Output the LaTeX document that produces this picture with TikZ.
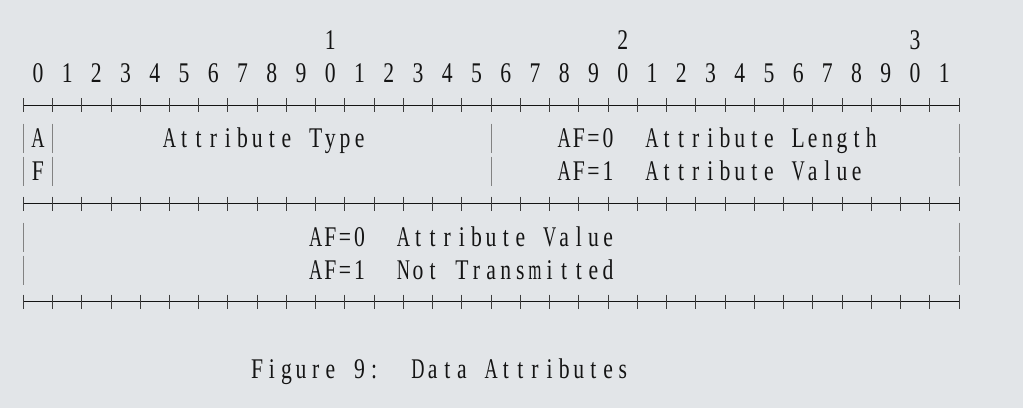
\documentclass[tikz,border=0pt]{standalone}
\usepackage{fontspec}
\setmainfont{Liberation Serif}
\usepackage{graphicx}
\usepackage{xcolor}
\definecolor{bg}{RGB}{226,229,232}
\definecolor{ink}{RGB}{20,20,20}
\definecolor{bar}{RGB}{130,130,130}
\definecolor{tick}{RGB}{60,60,60}
\def\cw{14.62}
\newsavebox\chbox
\def\monoend{\monoend}
\newcommand\mono[1]{\monoi#1\monoend}
\def\monoi#1{\ifx#1\monoend\else\monochar{#1}\expandafter\monoi\fi}
\newcommand\monochar[1]{\sbox\chbox{\scalebox{0.76}[1]{#1}}%
  \ifdim\wd\chbox>13.2pt
    \makebox[\cw pt][c]{\resizebox{13.2pt}{\height}{\usebox\chbox}}%
  \else
    \makebox[\cw pt][c]{\usebox\chbox}%
  \fi}
\begin{document}
\begin{tikzpicture}[x=1pt,y=-1pt,
  txt/.style={anchor=base west,inner sep=0pt,outer sep=0pt,text=ink,font=\fontsize{28.5}{30}\selectfont},
  hline/.style={draw=ink,line width=1pt},
  tickmark/.style={draw=tick,line width=1pt},
  vbar/.style={draw=bar,line width=1pt}]
\def\xo{16.0}
\fill[bg] (0,0) rectangle (1023,408);
\useasboundingbox (0,0) rectangle (1023,408);
% header: tens and bit numbers
\node[txt] (ten)    at ({\xo+21*\cw},49.5) {\mono{1}};
\node[txt] (twenty) at ({\xo+41*\cw},49.5) {\mono{2}};
\node[txt] (thirty) at ({\xo+61*\cw},49.5) {\mono{3}};
\node[txt] (bits)   at ({\xo+1*\cw},82) {\mono{0~1~2~3~4~5~6~7~8~9~0~1~2~3~4~5~6~7~8~9~0~1~2~3~4~5~6~7~8~9~0~1}};
% border rows
\foreach \r/\yy in {a/105, b/203.5, c/301.5}{
  \coordinate (\r L) at ({\xo+0.5*\cw},\yy);
  \coordinate (\r R) at ({\xo+64.5*\cw},\yy);
  \draw[hline] (\r L) -- (\r R);
  \foreach \k in {0,2,...,64}{
    \draw[tickmark] ({\xo+(\k+0.5)*\cw},\yy-7) -- ({\xo+(\k+0.5)*\cw},\yy+7);
  }
}
% first word: AF flag, type, length/value
\foreach \yy in {138,171}{
  \foreach \k in {0,2,32,64}{
    \draw[vbar] ({\xo+(\k+0.5)*\cw},\yy-14.5) -- ({\xo+(\k+0.5)*\cw},\yy+14.5);
  }
}
\node[txt] (A)    at ({\xo+1*\cw},147.5) {\mono{A}};
\node[txt] (F)    at ({\xo+1*\cw},180.5) {\mono{F}};
\node[txt] (type) at ({\xo+10*\cw},147.5) {\mono{Attribute~Type}};
\node[txt] (af0a) at ({\xo+37*\cw},147.5) {\mono{AF=0}};
\node[txt] (len)  at ({\xo+43*\cw},147.5) {\mono{Attribute~Length}};
\node[txt] (af1a) at ({\xo+37*\cw},180.5) {\mono{AF=1}};
\node[txt] (vala) at ({\xo+43*\cw},180.5) {\mono{Attribute~Value}};
% second word: value / not transmitted
\foreach \yy in {237,270}{
  \foreach \k in {0,64}{
    \draw[vbar] ({\xo+(\k+0.5)*\cw},\yy-14.5) -- ({\xo+(\k+0.5)*\cw},\yy+14.5);
  }
}
\node[txt] (af0b) at ({\xo+20*\cw},246.5) {\mono{AF=0}};
\node[txt] (valb) at ({\xo+26*\cw},246.5) {\mono{Attribute~Value}};
\node[txt] (af1b) at ({\xo+20*\cw},279.5) {\mono{AF=1}};
\node[txt] (notx) at ({\xo+26*\cw},279.5) {\mono{Not~Transmitted}};
% caption
\node[txt] (fig)  at ({\xo+16*\cw},378.5) {\mono{Figure~9:}};
\node[txt] (cap)  at ({\xo+27*\cw},378.5) {\mono{Data~Attributes}};
\end{tikzpicture}
\end{document}
